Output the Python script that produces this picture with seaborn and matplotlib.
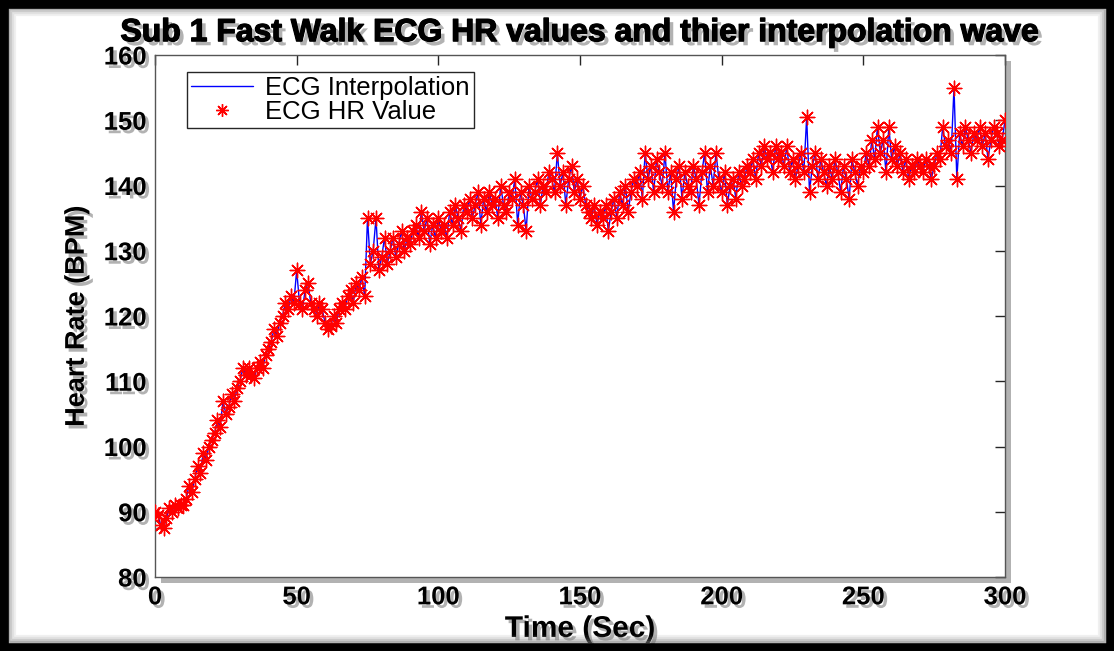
import numpy as np
import pandas as pd
import matplotlib
matplotlib.use("Agg")
import matplotlib.pyplot as plt
import matplotlib.patheffects as pe
from matplotlib.patches import Rectangle
from matplotlib.lines import Line2D
import seaborn as sns

# ---------------- data ----------------
SAMPLE_PERIOD = 1.0  # seconds between HR values

hr_values = [
    90, 89.5, 88, 87.5, 89, 90.5, 90, 91, 90.5, 91,
    91, 92, 94, 93, 95, 97, 96, 99, 98, 100,
    101, 102, 104, 103, 107, 105, 106, 108, 107, 109,
    110, 112, 111, 112, 111, 110.5, 112, 113, 112, 114,
    115, 116, 118, 117, 119, 120, 122, 121, 123, 122,
    127, 122, 121, 124, 125, 122, 121, 120, 122, 121,
    119, 118, 118.5, 120, 119, 121, 122, 121, 123, 124,
    122, 125, 124, 126, 123, 135, 128, 130, 135, 127,
    129, 132, 128, 130, 132, 129, 131, 133, 130, 132,
    131, 133, 134, 132, 136, 133, 135, 131, 134, 132,
    135, 133, 134, 132, 136, 134, 137, 135, 133, 137,
    136, 138, 135, 137, 139, 134, 138, 136, 139, 137,
    138, 135, 140, 137, 136, 139, 138, 141, 134, 139,
    137, 133, 140, 138, 139, 141, 137, 140, 139, 142,
    141, 139, 145, 140, 142, 137, 141, 143, 139, 141,
    138, 140, 137, 136, 135, 137, 134, 136, 135, 137,
    133, 136, 138, 135, 139, 137, 140, 136, 139, 141,
    140, 142, 138, 145, 141, 143, 139, 144, 142, 140,
    145, 139, 142, 136, 141, 143, 138, 142, 140, 139,
    143, 141, 137, 142, 145, 139, 143, 140, 145, 141,
    139, 142, 137, 140, 141, 138, 142, 140, 141, 143,
    142, 144, 141, 145, 143, 146, 144, 145, 142, 146,
    144, 145, 143, 146, 142, 144, 141, 143, 145, 142,
    150.5, 139, 143, 145, 141, 144, 142, 140, 143, 141,
    144, 142, 139, 143, 141, 138, 144, 142, 140, 143,
    142, 145, 143, 147, 144, 149, 145, 147, 142, 149,
    144, 146, 143, 145, 142, 144, 141, 143, 142, 144,
    143, 142, 144, 143, 141, 143, 145, 144, 149, 146,
    147, 145, 155, 141, 148, 146, 149, 147, 145, 148,
    147, 149, 146, 148, 144, 147, 149, 148, 146, 147, 150,
]

title_text = "Sub 1 Fast Walk ECG HR values and thier interpolation wave"
x_label = "Time (Sec)"
y_label = "Heart Rate (BPM)"
legend_labels = ["ECG Interpolation", "ECG HR Value"]
x_ticks = [0, 50, 100, 150, 200, 250, 300]
y_ticks = [80, 90, 100, 110, 120, 130, 140, 150, 160]

df = pd.DataFrame({"time": np.arange(len(hr_values)) * SAMPLE_PERIOD,
                   "hr": hr_values})

# ---------------- figure ----------------
sns.set_theme(style="white")
plt.rcParams["font.family"] = ["Liberation Sans", "DejaVu Sans"]

W, H = 1114, 651
fig = plt.figure(figsize=(W / 100, H / 100), dpi=100)
fig.patch.set_facecolor("white")
ax = fig.add_axes([155 / W, 1 - 577 / H, (1005 - 155) / W, (577 - 55) / H])

shadow = [pe.withSimplePatchShadow(offset=(2.5, -2.5), shadow_rgbFace="0.45", alpha=0.55)]
heavy_shadow = [pe.withSimplePatchShadow(offset=(3, -3), shadow_rgbFace="0.45", alpha=0.55),
                pe.withStroke(linewidth=0.9, foreground="black")]

sns.lineplot(data=df, x="time", y="hr", ax=ax, color="#0000ff", linewidth=1.0,
             estimator=None, sort=False, legend=False, zorder=2)
asterisk = (8, 2, 0)
sns.scatterplot(data=df, x="time", y="hr", ax=ax, marker=asterisk, s=110,
                color="#ff0000", linewidth=1.0, legend=False, zorder=3)

ax.set_xlim(0, 300)
ax.set_ylim(80, 160)
ax.set_xticks(x_ticks)
ax.set_yticks(y_ticks)
ax.tick_params(direction="in", length=7, width=1, top=True, right=True,
               labelsize=18.5, colors="#262626", pad=6)
for lab in ax.get_xticklabels() + ax.get_yticklabels():
    lab.set_fontweight("bold")
    lab.set_color("black")
    lab.set_path_effects(shadow)
for sp in ax.spines.values():
    sp.set_visible(True)
    sp.set_color("#555555")
    sp.set_linewidth(1.0)
ax.patch.set_path_effects([pe.withSimplePatchShadow(offset=(4, -4), shadow_rgbFace="0.4", alpha=0.5)])

ax.set_xlabel(x_label, fontsize=21.5, fontweight="bold", labelpad=4,
              color="black", path_effects=shadow)
ax.set_ylabel(y_label, fontsize=19.5, fontweight="bold", labelpad=10,
              color="black", path_effects=shadow)
ax.set_title(title_text, fontsize=23, fontweight="bold", pad=10,
             color="black", path_effects=heavy_shadow)

handles = [Line2D([], [], color="#0000ff", linewidth=1.0),
           Line2D([], [], color="#ff0000", linestyle="none", marker=asterisk,
                  markersize=9, markeredgewidth=1.0)]
leg = ax.legend(handles, legend_labels, loc="upper left",
                bbox_to_anchor=((187 - 155) / 850, (577 - 72) / 522),
                fontsize=18.5, frameon=True,
                fancybox=False, edgecolor="#262626", framealpha=1,
                handlelength=2.4, borderpad=0.15, labelspacing=0.0,
                handletextpad=0.5, borderaxespad=0)
leg.get_frame().set_linewidth(1.0)
for t in leg.get_texts():
    t.set_color("black")

# black outer frame with a soft grey inner shade
fig.patches.append(Rectangle((0, 0), 1, 1, transform=fig.transFigure,
                             fill=False, edgecolor="black", linewidth=12,
                             zorder=10))
for i, a in enumerate([0.55, 0.35, 0.2, 0.1]):
    inset = 9 + 2 * i
    fig.patches.append(Rectangle((inset / W, inset / H), 1 - 2 * inset / W,
                                 1 - 2 * inset / H, transform=fig.transFigure,
                                 fill=False, edgecolor="0.45", linewidth=1.6,
                                 alpha=a, zorder=9))

fig.savefig("out.png", dpi=100)
